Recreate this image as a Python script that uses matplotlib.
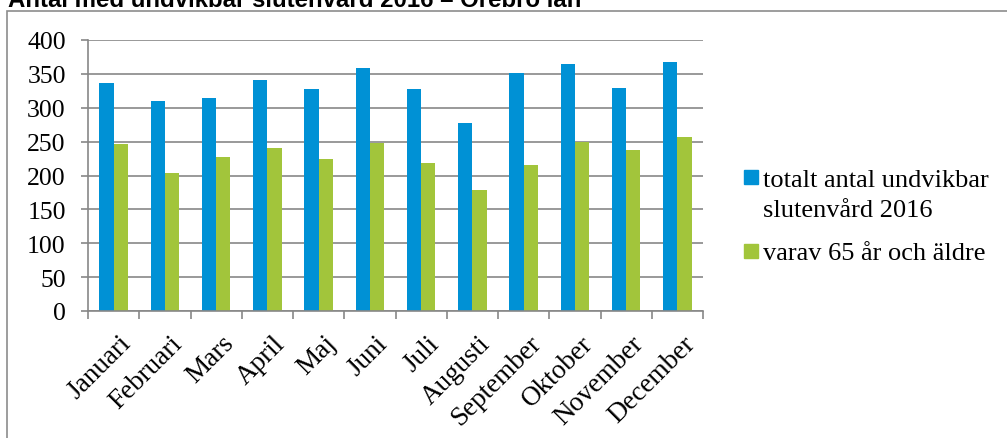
import numpy as np
import matplotlib
matplotlib.use("Agg")
import matplotlib.pyplot as plt
from matplotlib.patches import Rectangle
from matplotlib.transforms import ScaledTranslation

# Dati
manader = ["Januari", "Februari", "Mars", "April", "Maj", "Juni", "Juli",
           "Augusti", "September", "Oktober", "November", "December"]
totalt = [337, 310, 315, 341, 327, 358, 327, 278, 351, 365, 329, 367]
aldre = [247, 204, 227, 241, 224, 248, 218, 179, 215, 249, 237, 257]
serier = ["totalt antal undvikbar\nslutenvård 2016", "varav 65 år och äldre"]
titel = "Antal med undvikbar slutenvård 2016 – Örebro län"

bla = "#0091D5"
gron = "#A2C53B"
gra = "#878787"

W, H = 1007, 439
fig = plt.figure(figsize=(W / 100, H / 100), dpi=100)
plt.rcParams["font.family"] = "Liberation Serif"

# ram runt diagrammet
fig.patches.append(Rectangle((7 / W, -0.2), 1.2, (H - 12) / H + 0.2,
                             transform=fig.transFigure, fill=False,
                             edgecolor="#8c8c8c", lw=1.2))

fig.text(8 / W, 1 - 7 / H, titel, family="Liberation Sans", weight="bold",
         fontsize=17.3, va="baseline", ha="left")

ax = fig.add_axes([88 / W, (H - 312) / H, (703 - 88) / W, (312 - 41) / H])

x = np.arange(len(manader))
bredd = 0.28
ax.bar(x - bredd / 2, totalt, bredd, color=bla, zorder=3)
ax.bar(x + bredd / 2, aldre, bredd, color=gron, zorder=3)

ax.set_xlim(-0.5, len(manader) - 0.5)
ax.set_ylim(0, 400)
ax.set_yticks(range(0, 401, 50))
ax.yaxis.grid(True, color=gra, lw=1.2, zorder=0)
ax.tick_params(axis="y", length=5, width=1.2, color=gra, pad=11,
               labelsize=18.5)

# streck mellan kategorierna
ax.set_xticks(np.arange(-0.5, len(manader), 1.0))
ax.set_xticklabels([])
ax.set_xticks(x, minor=True)
ax.set_xticklabels(manader, minor=True, rotation=45, ha="right",
                   rotation_mode="anchor", fontsize=19.5)
ax.tick_params(axis="x", which="major", length=6, width=1.2, color=gra)
ax.tick_params(axis="x", which="minor", length=0, pad=14)
forskj = ScaledTranslation(5 / 100, 0, fig.dpi_scale_trans)
for lbl in ax.get_xticklabels(minor=True):
    lbl.set_transform(lbl.get_transform() + forskj)

for s in ["top", "right"]:
    ax.spines[s].set_visible(False)
for s in ["left", "bottom"]:
    ax.spines[s].set_color(gra)
    ax.spines[s].set_linewidth(1.2)
    ax.spines[s].set_zorder(4)

# förklaring
for farg, text, y0, ytext in [(bla, serier[0], 171, 187), (gron, serier[1], 245, 260)]:
    fig.patches.append(Rectangle((744 / W, 1 - (y0 + 14) / H), 14 / W, 14 / H,
                                 transform=fig.transFigure, color=farg))
    fig.text(763 / W, 1 - ytext / H, text.split("\n")[0], fontsize=19,
             va="baseline", ha="left")
    if "\n" in text:
        fig.text(763 / W, 1 - (ytext + 30) / H, text.split("\n")[1],
                 fontsize=19, va="baseline", ha="left")

fig.savefig("out.png", dpi=100)
